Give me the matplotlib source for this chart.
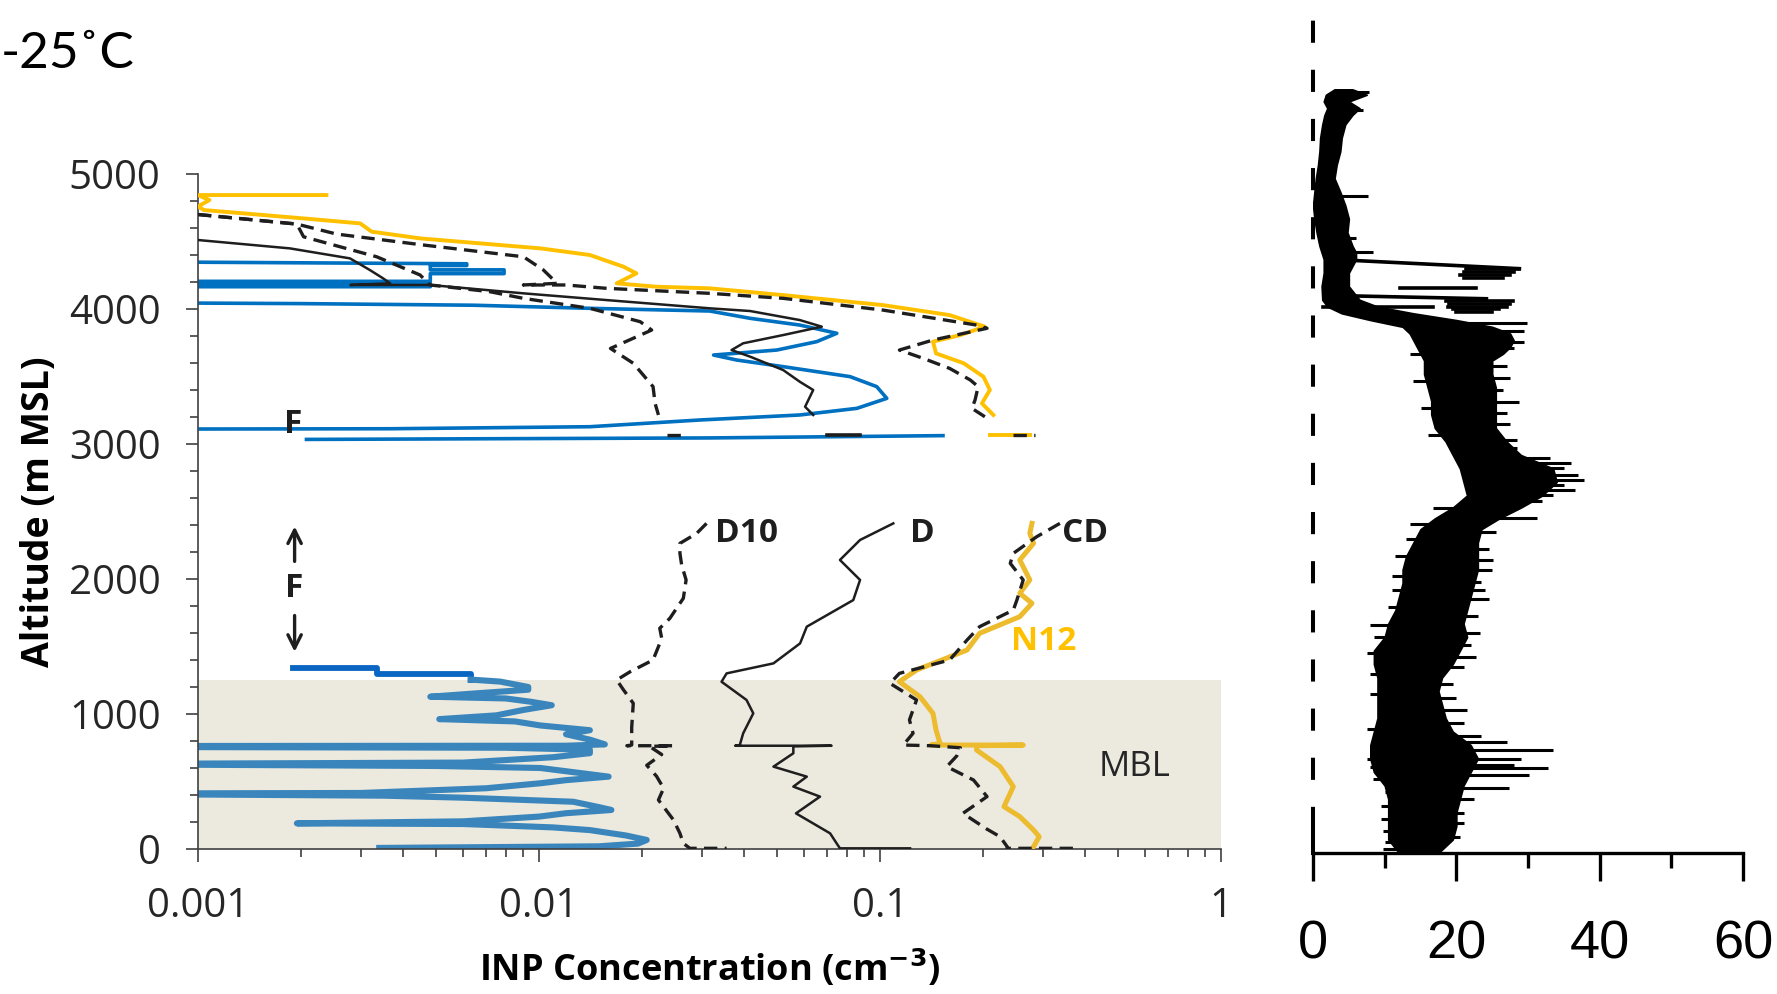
import matplotlib
matplotlib.use("Agg")
import matplotlib.pyplot as plt
from matplotlib.ticker import LogLocator, MultipleLocator, NullFormatter

# ── INP profiles, upper (free troposphere) leg ───────────────────────────────
N12_UP_ALT = [4844, 4844, 4807, 4760, 4733, 4671, 4634, 4573, 4523, 4449, 4400, 4313,
              4264, 4190, 4165, 4153, 4103, 4029, 3955, 3869, 3807, 3758, 3671, 3598,
              3499, 3400, 3301, 3215]
N12_UP_CONC = [0.00238, 0.00100, 0.00108, 0.00100, 0.00104, 0.00204, 0.00299, 0.00323,
               0.00448, 0.0101, 0.0141, 0.0177, 0.0193, 0.0169, 0.0221, 0.0317, 0.052,
               0.102, 0.160, 0.203, 0.172, 0.143, 0.146, 0.176, 0.201, 0.210, 0.199, 0.215]

CD_UP_ALT = [4700, 4629, 4555, 4474, 4387, 4289, 4190, 4178, 4178, 4153, 4116, 4079,
             3992, 3881, 3857, 3770, 3696, 3634, 3560, 3474, 3425, 3326, 3264, 3202]
CD_UP_CONC = [0.00100, 0.00195, 0.00255, 0.00458, 0.0090, 0.0103, 0.0113, 0.0090, 0.0120,
              0.0158, 0.0317, 0.052, 0.102, 0.192, 0.206, 0.143, 0.114, 0.134, 0.160,
              0.184, 0.194, 0.190, 0.186, 0.203]

D10_UP_ALT = [4700, 4629, 4535, 4387, 4252, 4178, 4128, 4079, 4005, 3906, 3844, 3708,
              3598, 3425, 3301, 3215]
D10_UP_CONC = [0.00100, 0.00195, 0.00204, 0.00334, 0.00448, 0.00479, 0.00718, 0.0090,
               0.0141, 0.0198, 0.0214, 0.0162, 0.0189, 0.0216, 0.0219, 0.0224]

D_UP_ALT = [4511, 4449, 4375, 4289, 4227, 4190, 4178, 4178, 4116, 4066, 4005, 3985, 3918,
            3869, 3807, 3746, 3696, 3647, 3548, 3461, 3400, 3276, 3215]
D_UP_CONC = [0.00100, 0.00186, 0.00279, 0.00319, 0.00349, 0.00366, 0.0028, 0.00479,
             0.0090, 0.0158, 0.0317, 0.0416, 0.0582, 0.0675, 0.052, 0.0397, 0.0367,
             0.0416, 0.052, 0.0582, 0.0637, 0.0603, 0.0637]

BLUE_UP_ALT = [4348, 4335, 4322, 4322, 4290, 4290, 4262, 4262, 4205, 4205, 4190, 4190,
               4165, 4165, 4045, 4040, 4028, 4005, 3985, 3931, 3881, 3820, 3758, 3696,
               3659, 3622, 3573, 3499, 3425, 3338, 3264, 3215, 3178, 3128, 3113, 3111, 3108]
BLUE_UP_CONC = [0.0008, 0.00614, 0.00614, 0.0048, 0.0048, 0.0079, 0.0079, 0.0048, 0.0048,
                0.0008, 0.0008, 0.0048, 0.0048, 0.0008, 0.0008, 0.00199, 0.00642, 0.0141,
                0.0317, 0.0416, 0.0582, 0.0747, 0.0652, 0.0498, 0.0325, 0.038, 0.052,
                0.0817, 0.0978, 0.1047, 0.0855, 0.0582, 0.0297, 0.0141, 0.00366, 0.0010,
                0.0008]

# short level legs near 3050 m
BLUE_LEG_ALT = [3034, 3045, 3062]
BLUE_LEG_CONC = [0.00208, 0.0317, 0.153]
LEG_ALT = 3067
N12_LEG = [0.210, 0.275]
CD_LEG = [0.245, 0.285]
D_LEG = [0.0698, 0.0874]
D10_LEG = [0.0237, 0.0262]

# ── INP profiles, lower leg (MBL and above) ──────────────────────────────────
N12_LO_ALT = [2412, 2338, 2264, 2141, 1993, 1894, 1820, 1721, 1598, 1474, 1326, 1239,
              1128, 1005, 881, 783, 770, 770, 765, 733, 610, 462, 314, 240, 141, 91, 17]
N12_LO_CONC = [0.279, 0.275, 0.282, 0.257, 0.275, 0.257, 0.279, 0.257, 0.196, 0.180,
               0.128, 0.114, 0.131, 0.143, 0.146, 0.150, 0.141, 0.263, 0.192, 0.192,
               0.225, 0.246, 0.231, 0.257, 0.282, 0.293, 0.282]

CD_LO_ALT = [2412, 2313, 2190, 2116, 1993, 1844, 1770, 1647, 1548, 1400, 1301, 1227,
             1104, 956, 857, 770, 765, 750, 690, 610, 511, 388, 264, 150, 91, 17, 5, 5]
CD_LO_CONC = [0.337, 0.288, 0.246, 0.241, 0.263, 0.252, 0.246, 0.196, 0.180, 0.160,
              0.114, 0.107, 0.128, 0.122, 0.125, 0.117, 0.141, 0.172, 0.168, 0.157,
              0.188, 0.206, 0.175, 0.205, 0.225, 0.236, 0.236, 0.369]

D_LO_ALT = [2412, 2289, 2141, 1993, 1844, 1647, 1523, 1375, 1301, 1239, 1104, 1005, 857,
            770, 765, 765, 760, 709, 610, 536, 462, 388, 264, 116, 42, 5, 5]
D_LO_CONC = [0.1094, 0.0874, 0.0763, 0.0874, 0.0835, 0.0610, 0.0583, 0.0487, 0.0355,
             0.0343, 0.0406, 0.0425, 0.0397, 0.0388, 0.0376, 0.0721, 0.0557, 0.0557,
             0.0487, 0.0610, 0.0557, 0.0667, 0.0567, 0.0714, 0.0746, 0.0763, 0.1225]

D10_LO_ALT = [2412, 2338, 2264, 2190, 2104, 1993, 1857, 1709, 1635, 1561, 1499, 1400,
              1313, 1252, 1178, 1079, 900, 770, 765, 765, 760, 700, 620, 540, 450, 363,
              215, 116, 42, 5, 5]
D10_LO_CONC = [0.0310, 0.0290, 0.0259, 0.0259, 0.0262, 0.0270, 0.0265, 0.0242, 0.0226,
               0.0229, 0.0224, 0.0216, 0.0185, 0.0169, 0.0177, 0.0189, 0.0187, 0.0187,
               0.0181, 0.0248, 0.0211, 0.0229, 0.0207, 0.0221, 0.0232, 0.0224, 0.0248,
               0.0259, 0.0265, 0.0277, 0.0355]

BLUE_LO_TOP_ALT = [1338, 1338, 1300, 1300, 1255]
BLUE_LO_TOP_CONC = [0.0019, 0.00334, 0.00334, 0.0063, 0.0063]
BLUE_LO_ALT = [1255, 1240, 1200, 1180, 1150, 1128, 1115, 1090, 1065, 1030, 990, 962, 945,
               915, 880, 850, 810, 775, 765, 763, 755, 750, 735, 710, 680, 640, 632, 625,
               615, 600, 565, 536, 510, 487, 450, 415, 412, 405, 395, 380, 350, 310, 289,
               265, 240, 205, 190, 185, 160, 140, 100, 67, 40, 20, 8]
BLUE_LO_CONC = [0.0063, 0.0077, 0.0093, 0.0093, 0.0063, 0.0048, 0.0080, 0.0095, 0.0109,
                0.0090, 0.0075, 0.0051, 0.0085, 0.0101, 0.0141, 0.0120, 0.0141, 0.0156,
                0.0120, 0.0008, 0.0008, 0.0080, 0.0141, 0.0141, 0.0110, 0.0060, 0.0008,
                0.0008, 0.0050, 0.0101, 0.0130, 0.0160, 0.0120, 0.0101, 0.0070, 0.0030,
                0.0008, 0.0008, 0.0035, 0.0060, 0.0126, 0.0150, 0.0163, 0.0120, 0.0100,
                0.0060, 0.00195, 0.0060, 0.0110, 0.0141, 0.0180, 0.0207, 0.0195, 0.0150,
                0.0034]

MBL_TOP = 1255
X_TICKS = [0.001, 0.01, 0.1, 1]
X_TICKLABELS = ["0.001", "0.01", "0.1", "1"]
Y_TICKS = [0, 1000, 2000, 3000, 4000, 5000]

# ── right-hand profile: band edges plus individual excursions ────────────────
TRACE_ALT = [5660, 5620, 5570, 5520, 5470, 5400, 5300, 5200, 5100, 5000, 4900, 4800,
             4700, 4600, 4500, 4450, 4400, 4300, 4200, 4100, 4050, 4000, 3950, 3900,
             3850, 3800, 3750, 3700, 3650, 3550, 3450, 3350, 3250, 3150, 3050, 2950,
             2850, 2750, 2650, 2560, 2480, 2400, 2300, 2200, 2100, 2000, 1900, 1800,
             1700, 1600, 1500, 1400, 1300, 1200, 1100, 1000, 900, 800, 700, 600, 500,
             400, 300, 200, 100, 0]
TRACE_LO = [3.0, 1.8, 1.5, 2.0, 1.6, 1.3, 1.0, 0.9, 0.7, 0.4, 0.2, 0.0, 0.2, 0.5, 0.9,
            1.2, 1.5, 1.5, 1.2, 1.3, 2.0, 4.0, 8.0, 12.5, 13.5, 14.0, 14.5, 15.0, 15.5,
            15.5, 16.0, 16.5, 16.5, 17.0, 18.5, 19.5, 20.5, 21.0, 21.5, 19.5, 17.0, 15.0,
            14.0, 13.0, 12.5, 12.5, 12.0, 11.5, 10.5, 10.0, 8.5, 8.5, 9.0, 9.0, 9.0, 9.0,
            8.5, 8.0, 8.0, 8.5, 10.0, 10.5, 10.5, 10.5, 10.5, 12.0]
TRACE_HI = [5.5, 7.5, 5.0, 6.5, 5.5, 4.5, 4.0, 3.8, 3.3, 3.0, 3.8, 4.5, 5.0, 4.8, 5.5,
            6.0, 6.0, 5.0, 5.0, 6.5, 9.0, 14.0, 20.0, 25.0, 27.5, 28.0, 27.5, 26.5, 25.0,
            25.0, 25.5, 25.5, 25.5, 25.5, 27.0, 29.0, 33.5, 34.0, 32.0, 29.0, 26.0, 23.5,
            23.0, 23.0, 23.0, 22.5, 22.0, 21.5, 21.0, 21.5, 20.5, 19.5, 18.0, 17.5, 18.0,
            18.5, 19.5, 22.0, 23.0, 22.0, 21.0, 20.5, 20.0, 20.0, 19.5, 17.5]

SPIKE_ALT = [5640, 5505, 4870, 4455, 4560, 3925, 3870, 3790, 3740, 3610, 3430, 3345,
             3180, 3000, 2930, 2890, 2850, 2800, 2765, 2725, 2690, 2650, 2610, 2540,
             2480, 2170, 1950, 1630, 1455, 765, 700, 655, 630, 580, 480, 300,
             2380, 2250, 2100, 2010, 1880, 1760, 1540, 1380, 1250, 1150, 1060, 960, 870,
             820, 400, 220, 120, 3520, 3260, 3060,
             2560, 2330, 2050, 1820, 1690, 1330, 1035, 770, 640, 545, 450, 160, 30,
             2440, 2200, 1950, 1600, 1480, 1180, 920, 700, 350, 250, 80,
             3700, 3500, 3300, 3100]
SPIKE_FROM = [4, 4, 2, 3, 3, 18, 20, 20, 20, 20, 20, 20, 20, 22, 25, 25, 25, 25, 25, 25,
              25, 25, 25, 22, 20, 18, 18, 17, 15, 14, 14, 14, 14, 14, 14, 14,
              18, 17, 16, 16, 15, 15, 14, 12, 12, 12, 12, 12, 12, 12, 13, 13, 13, 20, 20, 22,
              22, 18, 16, 15, 14, 12, 12, 12, 12, 12, 12, 12, 12,
              20, 17, 16, 14, 14, 12, 12, 12, 13, 13, 13,
              20, 20, 20, 20]
SPIKE_TO = [7.8, 7.0, 7.7, 8.4, 6.0, 29.8, 29.5, 29.5, 28.0, 27.0, 26.5, 28.8, 27.5,
            28.5, 33.0, 36.0, 35.0, 37.0, 37.8, 35.0, 36.5, 33.5, 32.0, 28.0, 31.2,
            25.1, 24.0, 23.3, 22.8, 33.5, 29.0, 28.0, 32.8, 30.2, 27.4, 21.0,
            25.5, 24.5, 25.0, 23.5, 24.5, 23.0, 22.0, 21.0, 19.5, 20.0, 21.5, 21.0, 23.5,
            27.0, 22.5, 21.0, 20.5, 27.5, 27.0, 28.5,
            16.7, 13.0, 11.0, 10.5, 8.0, 7.9, 9.1, 7.9, 8.0, 8.4, 10.0, 9.8, 9.8,
            13.5, 11.5, 11.0, 8.5, 7.5, 8.0, 7.5, 7.5, 9.5, 9.5, 10.0,
            13.5, 14.0, 15.0, 16.0]

STREAK_Y0 = [4392, 4325, 4305, 4285, 4262, 4188, 4133, 4090, 4070, 4050, 4030, 4012, 4047]
STREAK_Y1 = [4331, 4325, 4305, 4285, 4262, 4188, 4108, 4090, 4070, 4050, 4030, 4012, 4047]
STREAK_X0 = [5.6, 21.4, 21.0, 20.5, 21.0, 12.1, 1.9, 18.6, 19.0, 18.8, 19.5, 20.0, 1.4]
STREAK_X1 = [28.8, 28.8, 28.0, 27.5, 26.5, 22.8, 24.2, 27.9, 27.5, 27.0, 26.0, 25.0, 16.7]
R_TICKS = [0, 20, 40, 60]
R_MINOR = [10, 30, 50]

YELLOW = "#FFC000"
YELLOW_MBL = "#EDBB2E"
BLUE = "#0070C0"
BLUE_MBL = "#3A86BC"
INK = "#1E1E1E"
DASH = (4.0, 2.2)

fig = plt.figure(figsize=(17.77, 9.94), dpi=100)
ax = fig.add_axes([198 / 1777, 145 / 994, 1023 / 1777, 675 / 994])
axr = fig.add_axes([1313 / 1777, 141 / 994, 430 / 1777, 850 / 994])

# ── left panel ───────────────────────────────────────────────────────────────
ax.axhspan(0, MBL_TOP, color="#ECE9DF", lw=0, zorder=0)

ax.plot(BLUE_UP_CONC, BLUE_UP_ALT, color=BLUE, lw=2.6, zorder=2)
ax.plot(BLUE_LEG_CONC, BLUE_LEG_ALT, color=BLUE, lw=2.6, zorder=2)
ax.plot(BLUE_LO_TOP_CONC, BLUE_LO_TOP_ALT, color="#0A66C2", lw=4.2, zorder=2)
ax.plot(BLUE_LO_CONC, BLUE_LO_ALT, color=BLUE_MBL, lw=4.4, zorder=2)

ax.plot(N12_UP_CONC, N12_UP_ALT, color=YELLOW, lw=2.8, zorder=3)
ax.plot(N12_LEG, [LEG_ALT] * 2, color=YELLOW, lw=2.8, zorder=3)
ax.plot(N12_LO_CONC, N12_LO_ALT, color=YELLOW_MBL, lw=3.6, zorder=3)

ax.plot(D_UP_CONC, D_UP_ALT, color=INK, lw=1.8, zorder=4)
ax.plot(D_LEG, [LEG_ALT] * 2, color=INK, lw=2.6, zorder=4)
ax.plot(D_LO_CONC, D_LO_ALT, color=INK, lw=1.8, zorder=4)

for xs, ys in [(CD_UP_CONC, CD_UP_ALT), (CD_LO_CONC, CD_LO_ALT),
               (D10_UP_CONC, D10_UP_ALT), (D10_LO_CONC, D10_LO_ALT),
               (CD_LEG, [LEG_ALT] * 2), (D10_LEG, [LEG_ALT] * 2)]:
    ax.plot(xs, ys, color=INK, lw=2.4, dashes=DASH, zorder=4)

ax.set_xscale("log")
ax.set_xlim(0.001, 1)
ax.set_ylim(0, 5000)
ax.set_xticks(X_TICKS)
ax.set_xticklabels(X_TICKLABELS)
ax.xaxis.set_minor_locator(LogLocator(base=10, subs=range(2, 10)))
ax.xaxis.set_minor_formatter(NullFormatter())
ax.set_yticks(Y_TICKS)
ax.yaxis.set_minor_locator(MultipleLocator(200))

for lbl in ax.get_xticklabels() + ax.get_yticklabels():
    lbl.set_fontfamily("Open Sans")
    lbl.set_fontsize(29)
    lbl.set_color("#262626")
ax.tick_params(axis="both", which="major", direction="out", length=9, width=1.2,
               color="#404040")
ax.tick_params(axis="both", which="minor", direction="out", length=6, width=1.2,
               color="#404040")
ax.tick_params(axis="x", which="major", pad=18)
ax.tick_params(axis="y", which="major", pad=18)
for side in ["top", "right"]:
    ax.spines[side].set_visible(False)
for side in ["left", "bottom"]:
    ax.spines[side].set_color("#404040")
    ax.spines[side].set_linewidth(1.2)

ax.set_ylabel("Altitude (m MSL)", fontfamily="Open Sans", fontweight="bold",
              fontsize=27, labelpad=8)
ax.set_xlabel("INP Concentration (cm$^{\\mathbf{-3}}$)", fontfamily="Open Sans",
              fontweight="bold", fontsize=26, labelpad=16)

lab = {"family": "Open Sans", "weight": "bold", "fontsize": 24, "va": "center"}
ax.text(0.0328, 2338, "D10", ha="left", color=INK, **lab)
ax.text(0.1225, 2338, "D", ha="left", color=INK, **lab)
ax.text(0.341, 2338, "CD", ha="left", color=INK, **lab)
ax.text(0.243, 1536, "N12", ha="left", color=YELLOW, **lab)
ax.text(0.0019, 3141, "F", ha="center", color=INK, **lab)
ax.text(0.00192, 1933, "F", ha="center", color=INK, **lab)
ax.text(0.556, 607, "MBL", ha="center", va="center", family="Open Sans",
        fontsize=25, color="#262626")
arrow = dict(arrowstyle="->", lw=2.4, color=INK, mutation_scale=24)
ax.annotate("", xy=(0.00192, 2410), xytext=(0.00192, 2110), arrowprops=arrow)
ax.annotate("", xy=(0.00192, 1440), xytext=(0.00192, 1750), arrowprops=arrow)

fig.text(68 / 1777, 1 - 54 / 994, "-25˚C", ha="center", va="center",
         family="Lato", fontsize=37, color="black")

# ── right panel ──────────────────────────────────────────────────────────────
axr.fill_betweenx(TRACE_ALT, TRACE_LO, TRACE_HI, color="black", lw=1.2, zorder=2)
axr.hlines(SPIKE_ALT, SPIKE_FROM, SPIKE_TO, color="black", lw=2.2, zorder=2)
for x0, x1, y0, y1 in zip(STREAK_X0, STREAK_X1, STREAK_Y0, STREAK_Y1):
    axr.plot([x0, x1], [y0, y1], color="black", lw=2.6, zorder=2)

axr.plot([0, 0], [180, 6300], color="black", lw=2.9, dashes=(5.5, 6.7),
         clip_on=False, zorder=3)
axr.set_xlim(0, 60)
axr.set_ylim(0, 6300)
axr.set_xticks(R_TICKS)
axr.set_xticks(R_MINOR, minor=True)
axr.set_yticks([])
for side in ["top", "right"]:
    axr.spines[side].set_visible(False)
axr.spines["bottom"].set_linewidth(2.4)
axr.spines["bottom"].set_bounds(0, 60)
axr.spines["left"].set_linewidth(2.9)
axr.spines["left"].set_bounds(0, 170)
axr.tick_params(axis="x", which="major", direction="out", length=20, width=2.4,
                pad=28, labelsize=39)
axr.tick_params(axis="x", which="minor", direction="out", length=11, width=2.4)
for lbl in axr.get_xticklabels():
    lbl.set_fontfamily("Liberation Sans")
axr.patch.set_alpha(0)

fig.savefig("out.png", dpi=100)
